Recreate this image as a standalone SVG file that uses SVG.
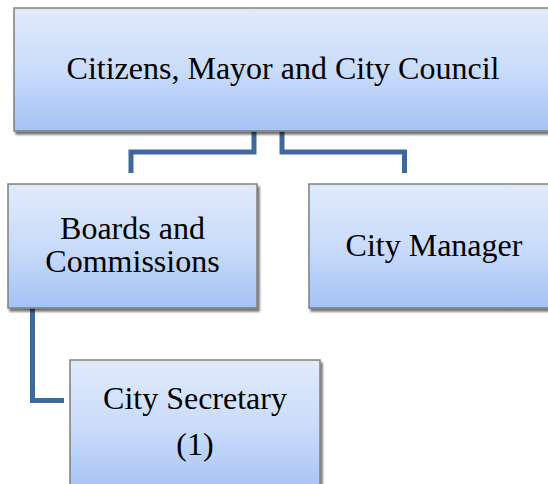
<svg xmlns="http://www.w3.org/2000/svg" width="548" height="484" viewBox="0 0 548 484">
<defs>
<linearGradient id="g" x1="0" y1="0" x2="0" y2="1">
<stop offset="0" stop-color="#e0eafb"/>
<stop offset="0.5" stop-color="#cadcfa"/>
<stop offset="1" stop-color="#a4c2f6"/>
</linearGradient>
<filter id="sh" x="-5%" y="-5%" width="115%" height="120%">
<feGaussianBlur in="SourceAlpha" stdDeviation="1.2"/>
<feOffset dx="1.5" dy="2.5" result="b"/>
<feComponentTransfer><feFuncA type="linear" slope="0.55"/></feComponentTransfer>
<feMerge><feMergeNode/><feMergeNode in="SourceGraphic"/></feMerge>
</filter>
</defs>
<style>
.box{fill:url(#g);stroke:#7f7f7f;stroke-width:1.5;filter:url(#sh)}
.t{font-family:"Liberation Serif","Times New Roman",serif;fill:#000;text-anchor:middle;font-size:32px}
.c{fill:none;stroke:#41689a;stroke-width:5;stroke-linejoin:miter}
</style>
<rect width="548" height="484" fill="#fff"/>
<g id="connectors">
<path class="c" d="M254 131 V152 H131 V173"/>
<path class="c" d="M282 131 V152 H404.5 V173"/>
<path class="c" d="M32.5 308 V400.5 H64"/>
</g>
<g id="top">
<rect class="box" x="14" y="8" width="545" height="123"/>
<text class="t" x="283" y="79">Citizens, Mayor and City Council</text>
</g>
<g id="boards">
<rect class="box" x="8" y="184" width="249" height="124"/>
<text class="t" x="132.5" y="239">Boards and</text>
<text class="t" x="132.5" y="272">Commissions</text>
</g>
<g id="manager">
<rect class="box" x="309" y="184" width="250" height="124"/>
<text class="t" x="434" y="256">City Manager</text>
</g>
<g id="secretary">
<rect class="box" x="70" y="360" width="250" height="135"/>
<text class="t" x="195" y="409">City Secretary</text>
<text class="t" x="195" y="455">(1)</text>
</g>
</svg>
